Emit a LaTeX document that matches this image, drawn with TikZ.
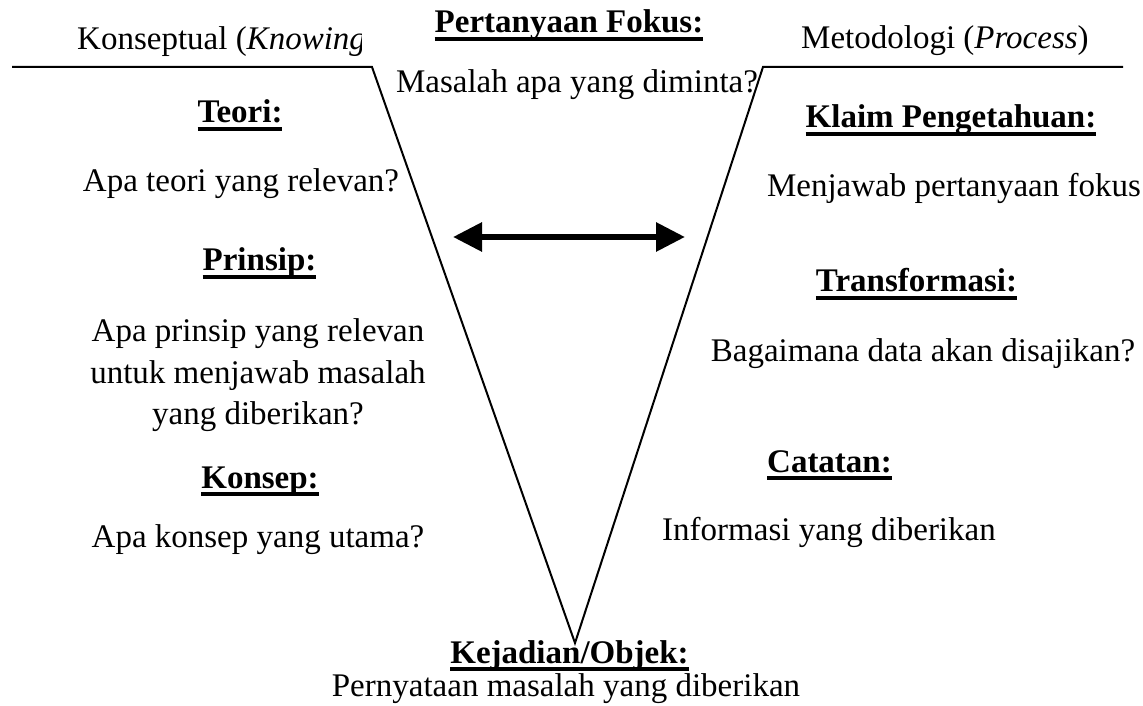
\documentclass[tikz,border=0pt]{standalone}
\usepackage{fontspec}
\setmainfont{Liberation Serif}
\usetikzlibrary{arrows.meta}
\newcommand{\ulhead}[1]{\setbox0\hbox{\bfseries #1}\rlap{\raisebox{-8pt}{\rule{\wd0}{4pt}}}\box0}
\begin{document}
\begin{tikzpicture}[x=1pt,y=1pt,
  txt/.style={anchor=base,inner sep=0pt,font=\fontsize{33}{41.5}\selectfont},
  head/.style={txt},
  vline/.style={line width=2pt},
  dblarrow/.style={line width=6pt,{Triangle[length=29pt,width=28pt]}-{Triangle[length=29pt,width=28pt]}}]
\useasboundingbox (0,0) rectangle (1143,705);
% V shape
\coordinate (tl) at (12,638);
\coordinate (tli) at (372,638);
\coordinate (v) at (575,62);
\coordinate (tri) at (763,638);
\coordinate (tr) at (1123,638);
\draw[vline] (tl) -- (tli) -- (v) -- (tri) -- (tr);
% top labels
\begin{scope}
\clip (0,600) rectangle (361,705);
\node[txt,anchor=base west] (konseptual) at (77,655) {Konseptual (\textit{Knowing})};
\end{scope}
\node[txt,anchor=base west] (metodologi) at (801,656) {Metodologi (\textit{Process})};
\node[head] (fokus) at (569,672) {\ulhead{Pertanyaan Fokus:}};
\node[txt] (fokusq) at (577,612) {Masalah apa yang diminta?};
% left side
\node[head] (teori) at (240,582) {\ulhead{Teori:}};
\node[txt] (teoriq) at (241,513) {Apa teori yang relevan?};
\node[head] (prinsip) at (259.5,434) {\ulhead{Prinsip:}};
\node[txt,align=center] (prinsipq) at (258,280) {Apa prinsip yang relevan\\untuk menjawab masalah\\yang diberikan?};
\node[head] (konsep) at (260,217) {\ulhead{Konsep:}};
\node[txt] (konsepq) at (258,158) {Apa konsep yang utama?};
% right side
\node[head] (klaim) at (951,577) {\ulhead{Klaim Pengetahuan:}};
\node[txt] (klaimq) at (954,508) {Menjawab pertanyaan fokus};
\node[head] (transf) at (916.5,413) {\ulhead{Transformasi:}};
\node[txt] (transfq) at (923,343) {Bagaimana data akan disajikan?};
\node[head] (catatan) at (829.5,233) {\ulhead{Catatan:}};
\node[txt] (catatanq) at (829,165) {Informasi yang diberikan};
% bottom
\node[head] (kejadian) at (569.5,42) {\ulhead{Kejadian/Objek:}};
\node[txt] (kejadianq) at (566,9) {Pernyataan masalah yang diberikan};
% arrow
\coordinate (al) at (453,468);
\coordinate (ar) at (685,468);
\draw[dblarrow] (al) -- (ar);
\end{tikzpicture}
\end{document}
